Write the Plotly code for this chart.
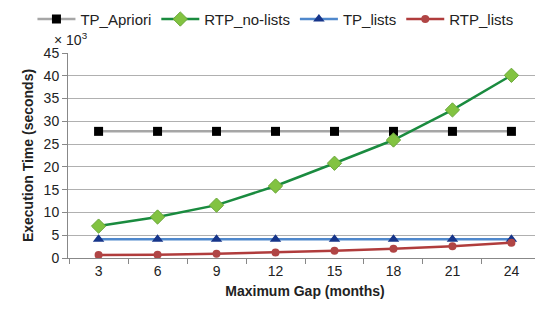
import plotly.graph_objects as go

months = ["3", "6", "9", "12", "15", "18", "21", "24"]
tp_apriori = [27.8, 27.8, 27.8, 27.8, 27.8, 27.8, 27.8, 27.8]
rtp_nolists = [7.0, 9.0, 11.6, 15.8, 20.8, 25.9, 32.5, 40.1]
tp_lists = [4.1, 4.1, 4.1, 4.1, 4.1, 4.1, 4.1, 4.1]
rtp_lists = [0.66, 0.7, 0.95, 1.2, 1.6, 2.05, 2.6, 3.35]
y_ticks = [0, 5, 10, 15, 20, 25, 30, 35, 40, 45]

FONT = "Liberation Sans"

fig = go.Figure()
fig.add_trace(go.Scatter(x=months, y=tp_apriori, name="TP_Apriori", mode="lines+markers",
                         line=dict(color="#a6a6a6", width=2.5),
                         marker=dict(symbol="square", size=9, color="black")))
fig.add_trace(go.Scatter(x=months, y=rtp_nolists, name="RTP_no-lists", mode="lines+markers",
                         line=dict(color="#1a8b3f", width=2.5),
                         marker=dict(symbol="diamond", size=11, color="#82c341",
                                     line=dict(color="#6aa83a", width=1))))
fig.add_trace(go.Scatter(x=months, y=tp_lists, name="TP_lists", mode="lines+markers",
                         line=dict(color="#4f88cc", width=2.5),
                         marker=dict(symbol="triangle-up", size=10, color="#16358a")))
fig.add_trace(go.Scatter(x=months, y=rtp_lists, name="RTP_lists", mode="lines+markers",
                         line=dict(color="#b03c3c", width=2.5),
                         marker=dict(symbol="circle", size=8, color="#b04545")))

fig.update_layout(
    width=543, height=313,
    margin=dict(l=60, r=9, t=45, b=63, autoexpand=False),
    plot_bgcolor="white", paper_bgcolor="white",
    font=dict(family=FONT, size=14, color="#222"),
    showlegend=True,
    legend=dict(orientation="h", x=-0.075, xanchor="left", y=1.245, yanchor="top",
                font=dict(size=15, color="#222"), itemwidth=38, tracegroupgap=0,
                bgcolor="rgba(0,0,0,0)"),
    xaxis=dict(type="category", showgrid=False, showline=True, linecolor="#888",
               ticks="outside", tickson="boundaries", ticklen=5, tickcolor="#888",
               tickfont=dict(size=14),
               title=dict(text="<b>Maximum Gap (months)</b>", font=dict(size=14), standoff=8)),
    yaxis=dict(range=[0, 45], tickvals=y_ticks, showgrid=True, gridcolor="#b0b0b0",
               showline=True, linecolor="#888", ticks="outside", ticklen=5, tickcolor="#888",
               zeroline=False, tickfont=dict(size=14),
               title=dict(text="<b>Execution Time (seconds)</b>", font=dict(size=14), standoff=6)),
)
fig.add_annotation(text="× 10<sup>3</sup>", xref="paper", yref="paper", x=0, y=1.0,
                   xanchor="left", yanchor="bottom", showarrow=False, xshift=-16, yshift=3,
                   font=dict(size=14, family=FONT))
fig.write_html("out.html")
